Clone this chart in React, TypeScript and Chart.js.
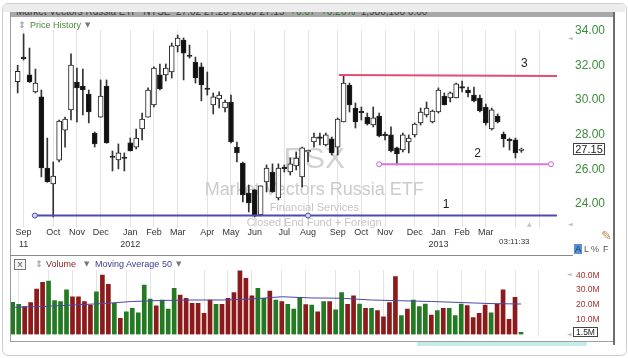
import React, { useEffect, useRef } from 'react';
import { Chart, registerables } from 'chart.js';

Chart.register(...registerables);

const FONT = '"Liberation Sans", Arial, sans-serif';
Chart.defaults.font.family = FONT;

// ---- weekly OHLC (RSX, Aug 2011 - Apr 2013) ----
const opens = [31.05,32.45,31.44,30.46,30.17,26.07,25.16,26.53,28.26,29.42,
 31.03,30.80,30.34,28.09,29.01,30.80,26.74,26.54,26.68,27.52,
 27.28,28.32,29.01,29.71,31.44,31.44,31.61,33.11,33.45,32.56,
 32.18,31.90,30.66,29.71,30.05,29.53,29.88,27.28,26.36,24.63,
 24.81,23.37,25.27,25.84,24.35,26.10,25.84,26.19,25.56,27.00,
 27.57,27.83,27.40,27.75,27.28,28.73,30.86,29.53,29.33,29.01,
 28.55,29.07,28.00,27.98,27.23,27.11,27.57,27.98,28.67,29.13,
 28.73,29.30,30.22,30.11,30.11,30.75,30.57,30.28,30.11,29.59,
 28.32,29.07,28.03,27.72,27.69,27.08];
const highs = [32.00,33.80,32.99,31.78,30.57,27.80,26.42,28.84,29.01,32.65,
 31.84,31.78,30.57,28.15,31.15,31.15,27.05,27.46,26.94,27.80,
 28.32,29.24,30.69,31.90,32.07,32.07,33.28,33.74,33.57,33.16,
 32.47,32.13,31.61,30.40,30.46,29.99,30.28,27.57,26.42,25.09,
 24.85,25.04,26.25,26.31,26.31,26.25,26.65,27.00,27.28,27.11,
 28.09,28.09,28.09,27.86,28.96,31.44,30.97,29.82,29.59,29.24,
 29.59,29.24,28.15,28.44,27.28,28.09,27.98,28.67,29.53,29.88,
 29.42,30.69,30.40,30.46,30.97,31.09,30.74,30.74,30.28,29.76,
 29.53,29.19,28.15,27.80,27.80,27.22];
const lows = [30.40,32.30,31.00,30.40,25.56,25.25,23.25,26.42,27.28,28.84,
 28.73,29.13,28.67,27.28,29.00,27.50,25.90,26.02,25.90,27.05,
 27.17,27.69,29.00,29.59,30.57,31.09,31.26,32.76,31.15,32.41,
 30.97,29.94,30.28,29.19,29.53,29.30,27.52,26.42,24.11,23.54,
 23.25,23.31,24.69,24.67,24.23,25.84,25.67,25.96,24.98,26.42,
 27.28,27.40,27.34,26.82,26.82,28.73,29.30,28.38,28.84,28.55,
 28.44,27.86,27.69,27.00,26.25,27.00,26.94,27.86,28.55,29.01,
 28.67,29.24,29.71,29.88,30.11,30.46,30.17,29.88,29.30,28.55,
 28.26,28.67,27.28,27.11,26.65,26.98];
const closes = [31.65,32.38,31.03,30.97,26.07,25.27,25.61,28.78,28.90,32.01,
 30.69,30.57,29.30,27.46,30.22,27.52,26.68,26.94,26.62,27.05,
 27.80,28.90,30.57,31.84,30.63,31.84,33.11,33.57,32.70,32.50,
 31.26,30.86,30.60,30.17,30.28,29.88,27.57,26.94,24.52,24.06,
 23.30,25.04,26.07,24.69,26.07,26.04,26.31,26.65,27.23,27.06,
 27.86,27.78,27.98,26.94,28.90,30.97,29.71,28.73,29.27,28.61,
 28.96,27.92,27.94,27.05,26.88,27.98,27.80,28.61,29.30,29.53,
 29.36,30.57,29.71,30.40,30.92,30.68,30.40,29.94,29.36,28.67,
 29.42,28.73,27.75,27.64,26.94,27.15];

// ---- weekly volume (millions) and up/down colouring ----
const volumes = [21.8,20.4,18.8,21.5,30.7,35.3,36.1,22.9,22.2,30.1,
 25.5,25.5,22.2,19.9,28.9,40.2,33.9,21.1,10.9,15.4,
 17.7,14.7,33.4,24.0,19.3,23.3,17.2,31.2,26.7,24.5,
 21.1,21.1,14.3,23.3,20.4,20.4,24.5,28.3,43.1,38.0,
 26.2,31.2,24.5,29.4,23.3,22.2,20.4,17.2,25.1,20.3,
 19.9,15.4,22.2,22.2,16.6,28.3,20.4,26.2,20.6,17.7,
 17.7,16.1,12.0,21.5,39.1,12.7,17.2,23.3,18.8,20.6,
 13.2,16.1,17.7,17.7,12.7,20.6,19.5,11.4,14.3,19.9,
 14.7,20.6,30.1,10.3,25.1,1.5];
const volumeDir = ['g','g','r','r','r','r','g','g','g','g',
 'r','r','r','r','g','r','r','g','r','g',
 'g','g','g','g','r','g','g','g','r','r',
 'r','r','r','r','g','r','r','r','r','r',
 'r','g','g','r','g','r','g','g','g','r',
 'g','r','g','r','g','g','r','r','g','r',
 'g','r','r','r','r','g','r','g','g','g',
 'r','g','r','g','g','g','r','r','r','r',
 'g','r','r','r','r','g'];

// 50-period moving average of volume (read at every 5th week)
const maIdx = [0,5,10,15,20,25,30,35,40,45,50,55,60,65,70,75,80,85];
const maValues = [18.4,18.9,19.9,20.9,22.3,23.0,23.3,23.3,24.0,25.5,24.7,24.5,23.3,22.8,22.3,21.6,20.9,20.6];

// ---- axis ticks ----
const monthTickIdx = [1,6,10,14,19,23,27,32,36,40,45,49,54,58,62,67,71,75,79,84,88];
const monthTickLabels: (string | string[])[] = [['Sep','11'],'Oct','Nov','Dec',['Jan','2012'],'Feb','Mar','Apr','May','Jun','Jul','Aug','Sep','Oct','Nov','Dec',['Jan','2013'],'Feb','Mar','',''];
const priceTicks = [24,26,28,30,32,34];
const volumeTicks = [10,20,30,40];

// ---- drawn trend lines ----
const line1X = [2.9, 49, 91];
const line1Y = [23.33, 23.33, 23.33];
const line2X = [61, 90];
const line2Y = [26.29, 26.29];
const line3X = [54.2, 91];
const line3Y = [31.44, 31.38];
const levelLabels = ['1','2','3'];
const levelLabelX = [72.3, 77.6, 85.5];
const levelLabelY = [23.94, 26.88, 32.07];

const lastPrice = 27.15;
const lastVolume = 1.5;

const X_MIN = -0.45;
const X_MAX = 91.52;
const Y_MIN = 22.67;
const Y_MAX = 34.03;
const V_MAX = 43.58;

const watermarkX = 50.05;

const priceOverlay = {
  id: 'priceOverlay',
  beforeDatasetsDraw(chart: any) {
    const { ctx, scales } = chart;
    const x = scales.x, y = scales.y;
    const cx = x.getPixelForValue(watermarkX);
    ctx.save();
    ctx.textAlign = 'center';
    ctx.fillStyle = '#d2d2d2';
    ctx.textBaseline = 'alphabetic';
    ctx.font = `30px ${FONT}`;
    ctx.fillText('RSX', cx, y.getPixelForValue(26.07));
    ctx.textBaseline = 'middle';
    ctx.fillStyle = '#cbcbcb';
    ctx.font = `18px ${FONT}`;
    ctx.fillText('Market Vectors Russia ETF', cx, y.getPixelForValue(24.81));
    ctx.fillStyle = '#c6c6c6';
    ctx.font = `11px ${FONT}`;
    ctx.fillText('Financial Services', cx, y.getPixelForValue(23.77));
    ctx.fillText('Closed End Fund + Foreign', cx, y.getPixelForValue(22.9));
    ctx.restore();
  },
  afterDatasetsDraw(chart: any) {
    const { ctx, scales } = chart;
    const x = scales.x, y = scales.y;
    ctx.save();
    ctx.fillStyle = '#222';
    ctx.font = `12px ${FONT}`;
    ctx.textAlign = 'center';
    ctx.textBaseline = 'middle';
    levelLabels.forEach((t, i) => {
      ctx.fillText(t, x.getPixelForValue(levelLabelX[i]), y.getPixelForValue(levelLabelY[i]));
    });
    // last price box
    const py = Math.round(y.getPixelForValue(lastPrice));
    const bx = chart.chartArea.right + 13.5;
    ctx.fillStyle = '#fff';
    ctx.fillRect(bx, py - 5.5, 31, 11);
    ctx.strokeStyle = '#444';
    ctx.lineWidth = 1;
    ctx.strokeRect(bx, py - 5.5, 31, 11);
    ctx.fillStyle = '#222';
    ctx.font = `11px ${FONT}`;
    ctx.fillText(lastPrice.toFixed(2), bx + 15.5, py + 0.5);
    ctx.restore();
  },
};

const volumeOverlay = {
  id: 'volumeOverlay',
  afterDatasetsDraw(chart: any) {
    const { ctx, scales } = chart;
    const y = scales.y;
    const py = Math.round(y.getPixelForValue(lastVolume));
    const bx = chart.chartArea.right + 13.5;
    ctx.save();
    ctx.fillStyle = '#fff';
    ctx.fillRect(bx, py - 4.5, 24, 9);
    ctx.strokeStyle = '#444';
    ctx.lineWidth = 1;
    ctx.strokeRect(bx, py - 4.5, 24, 9);
    ctx.fillStyle = '#222';
    ctx.font = `8.5px ${FONT}`;
    ctx.textAlign = 'center';
    ctx.textBaseline = 'middle';
    ctx.fillText(lastVolume.toFixed(1) + 'M', bx + 12, py + 0.5);
    ctx.restore();
  },
};

function T(props: { x: number; y: number; size: number; color: string; children: any; family?: string; weight?: string }) {
  const { x, y, size, color, children, family, weight } = props;
  return (
    <span
      style={{
        position: 'absolute',
        left: x,
        top: y - size * 0.6,
        fontSize: size,
        lineHeight: `${size * 1.2}px`,
        color,
        fontFamily: family || FONT,
        fontWeight: (weight as any) || 'normal',
        whiteSpace: 'nowrap',
      }}
    >
      {children}
    </span>
  );
}

function Box(props: { x: number; y: number; w: number; h: number; bg: string; style?: any }) {
  return (
    <div
      style={{
        position: 'absolute',
        left: props.x,
        top: props.y,
        width: props.w,
        height: props.h,
        background: props.bg,
        ...(props.style || {}),
      }}
    />
  );
}

export default function App() {
  const priceRef = useRef<HTMLCanvasElement | null>(null);
  const volRef = useRef<HTMLCanvasElement | null>(null);

  useEffect(() => {
    if (!priceRef.current || !volRef.current) return;
    const idx = opens.map((_, i) => i);
    const bodyColors = idx.map((i) => (closes[i] >= opens[i] ? '#ffffff' : '#111111'));

    const xCommon = {
      type: 'linear' as const,
      min: X_MIN,
      max: X_MAX,
      offset: false,
      afterBuildTicks: (s: any) => {
        s.ticks = monthTickIdx.map((v) => ({ value: v }));
      },
      grid: { color: '#e3e3e3', lineWidth: 1, drawTicks: false, offset: false },
      border: { display: false },
    };

    const price = new Chart(priceRef.current, {
      type: 'bar',
      data: {
        datasets: [
          {
            type: 'line',
            label: 'Line 1',
            data: line1X.map((x, i) => ({ x, y: line1Y[i] })),
            borderColor: '#4b4bb3',
            borderWidth: 2,
            pointRadius: [2.5, 2.5, 0],
            pointBackgroundColor: '#d6d6f2',
            pointBorderColor: '#4b4bb3',
            pointBorderWidth: 1,
            order: 0,
          } as any,
          {
            type: 'line',
            label: 'Line 2',
            data: line2X.map((x, i) => ({ x, y: line2Y[i] })),
            borderColor: '#e070e0',
            borderWidth: 2,
            pointRadius: 2.5,
            pointBackgroundColor: '#ffffff',
            pointBorderColor: '#d060d0',
            pointBorderWidth: 1,
            order: 0,
          } as any,
          {
            type: 'line',
            label: 'Line 3',
            data: line3X.map((x, i) => ({ x, y: line3Y[i] })),
            borderColor: '#e04e72',
            borderWidth: 2,
            pointRadius: 0,
            order: 0,
          } as any,
          {
            label: 'Body',
            data: idx.map((i) => ({ x: i, y: [opens[i], closes[i]] })),
            backgroundColor: bodyColors,
            borderColor: '#222',
            borderWidth: 1,
            borderSkipped: false,
            barThickness: 5,
            grouped: false,
            minBarLength: 1.5,
            order: 1,
          } as any,
          {
            label: 'Wick',
            data: idx.map((i) => ({ x: i, y: [lows[i], highs[i]] })),
            backgroundColor: '#333',
            barThickness: 1,
            grouped: false,
            order: 2,
          } as any,
        ],
      },
      options: {
        responsive: false,
        animation: false,
        events: [],
        layout: { padding: { top: 10, left: 0, right: 0, bottom: 0 } },
        plugins: { legend: { display: false }, tooltip: { enabled: false } },
        scales: {
          x: {
            ...xCommon,
            afterFit: (s: any) => {
              s.height = 25;
            },
            ticks: {
              autoSkip: false,
              maxRotation: 0,
              minRotation: 0,
              padding: 0,
              color: '#333',
              font: { size: 9, lineHeight: 1.3 },
              callback: (v: any) => {
                const k = monthTickIdx.indexOf(Number(v));
                return k >= 0 ? monthTickLabels[k] : '';
              },
            },
          } as any,
          y: {
            type: 'linear',
            position: 'right',
            min: Y_MIN,
            max: Y_MAX,
            afterBuildTicks: (s: any) => {
              s.ticks = priceTicks.map((v) => ({ value: v }));
            },
            afterFit: (s: any) => {
              s.width = 55;
            },
            grid: { display: true, drawOnChartArea: false, drawTicks: true, tickLength: 14, tickColor: 'rgba(0,0,0,0)' },
            border: { display: false },
            ticks: {
              padding: 1,
              color: '#3c8c3c',
              font: { size: 12 },
              callback: (v: any) => Number(v).toFixed(2),
            },
          } as any,
        },
      },
      plugins: [priceOverlay],
    });

    const vol = new Chart(volRef.current, {
      type: 'bar',
      data: {
        datasets: [
          {
            type: 'line',
            label: 'Moving Average 50',
            data: maIdx.map((x, i) => ({ x, y: maValues[i] })),
            borderColor: '#4848a8',
            borderWidth: 1,
            pointRadius: 0,
            tension: 0,
            order: 0,
          } as any,
          {
            label: 'Volume',
            data: idx.map((i) => ({ x: i, y: volumes[i] })),
            backgroundColor: idx.map((i) => (volumeDir[i] === 'g' ? '#237a23' : '#8c1a1a')),
            barThickness: 4,
            grouped: false,
            order: 1,
          } as any,
        ],
      },
      options: {
        responsive: false,
        animation: false,
        events: [],
        layout: { padding: { top: 8, left: 0, right: 0, bottom: 7.5 } },
        plugins: { legend: { display: false }, tooltip: { enabled: false } },
        scales: {
          x: {
            ...xCommon,
            afterFit: (s: any) => {
              s.height = 0;
            },
            ticks: { display: false },
          } as any,
          y: {
            type: 'linear',
            position: 'right',
            min: 0,
            max: V_MAX,
            afterBuildTicks: (s: any) => {
              s.ticks = volumeTicks.map((v) => ({ value: v }));
            },
            afterFit: (s: any) => {
              s.width = 55;
            },
            grid: { display: true, drawOnChartArea: false, drawTicks: true, tickLength: 15, tickColor: 'rgba(0,0,0,0)' },
            border: { display: false },
            ticks: {
              padding: 1,
              color: '#a83030',
              font: { size: 8.5 },
              callback: (v: any) => Number(v).toFixed(1) + 'M',
            },
          } as any,
        },
      },
      plugins: [volumeOverlay],
    });

    return () => {
      price.destroy();
      vol.destroy();
    };
  }, []);

  return (
    <div
      style={{
        position: 'fixed',
        left: 0,
        top: 0,
        width: 628,
        height: 358,
        background: '#ffffff',
        overflow: 'hidden',
        fontFamily: FONT,
      }}
    >
      {/* outer frame */}
      <Box x={2} y={3} w={623} h={351} bg="#ffffff" style={{ border: '1px solid #cdcdcd', borderRadius: 6 }} />
      <Box x={3} y={4} w={622} h={8} bg="#ececec" style={{ borderRadius: '5px 5px 0 0' }} />

      {/* header bar with quote text (clipped) */}
      <div
        style={{
          position: 'absolute',
          left: 11,
          top: 12,
          width: 603,
          height: 5,
          background: '#a8a8a8',
          overflow: 'hidden',
        }}
      >
        <span
          style={{
            position: 'absolute',
            left: 5,
            top: -6,
            fontSize: 10,
            lineHeight: '12px',
            whiteSpace: 'nowrap',
            color: '#3a3a3a',
            fontFamily: FONT,
          }}
        >
          Market Vectors Russia ETF&nbsp;&nbsp;NYSE&nbsp;&nbsp;27.02 27.20 26.89 27.15&nbsp;&nbsp;
          <span style={{ color: '#2e6e2e' }}>+0.07&nbsp;&nbsp;+0.26%</span>&nbsp;&nbsp;1,980,100 0:00
        </span>
      </div>

      {/* canvases */}
      <canvas
        ref={priceRef}
        width={605}
        height={232}
        style={{ position: 'absolute', left: 10, top: 20, width: 605, height: 232 }}
      />
      <canvas
        ref={volRef}
        width={605}
        height={80}
        style={{ position: 'absolute', left: 10, top: 262, width: 605, height: 80 }}
      />

      {/* panel borders */}
      <Box x={10} y={12} w={1} h={330} bg="#9a9a9a" />
      <Box x={613} y={12} w={2} h={333} bg="#6e6e6e" />
      <Box x={10} y={255} w={563} h={1} bg="#8a8a8a" />
      <Box x={10} y={341} w={603} h={1} bg="#a0a0a0" />
      <Box x={417} y={342} w={170} h={4} bg="#c6ebeb" />

      {/* price panel header */}
      <T x={18} y={25} size={9} color="#8a8a8a" family='"DejaVu Sans", sans-serif'>⇕</T>
      <T x={30} y={25} size={9} color="#4a8a3a">Price History</T>
      <T x={85} y={25} size={7} color="#777" family='"DejaVu Sans", sans-serif'>▼</T>

      {/* small UI glyphs */}
      <T x={568} y={38} size={6} color="#bdbdbd" family='"DejaVu Sans", sans-serif'>◄</T>
      <T x={568} y={224} size={6} color="#bdbdbd" family='"DejaVu Sans", sans-serif'>◄</T>
      <T x={527} y={224} size={6} color="#c4c4c4" family='"DejaVu Sans", sans-serif'>▲</T>
      <T x={567} y={274} size={6} color="#bdbdbd" family='"DejaVu Sans", sans-serif'>◄</T>
      <T x={567} y={334} size={6} color="#bdbdbd" family='"DejaVu Sans", sans-serif'>◄</T>

      {/* time stamp and view switches */}
      <T x={499} y={242} size={8} color="#333">03:11:33</T>
      <T x={601} y={236} size={13} color="#c48a4a" family='"DejaVu Sans", sans-serif'>✎</T>
      <Box x={574} y={244} w={8} h={10} bg="#5b8fd0" />
      <T x={575} y={249} size={9} color="#15305a">A</T>
      <T x={584} y={249} size={9} color="#555">L</T>
      <T x={591} y={249} size={9} color="#555">%</T>
      <T x={603} y={249} size={9} color="#555">F</T>

      {/* volume panel header */}
      <div
        style={{
          position: 'absolute',
          left: 14,
          top: 259,
          width: 10,
          height: 9,
          border: '1px solid #777',
          background: '#f6f6f6',
          fontSize: 8,
          lineHeight: '9px',
          textAlign: 'center',
          color: '#333',
          fontFamily: FONT,
        }}
      >
        X
      </div>
      <T x={35} y={264} size={9} color="#8a8a8a" family='"DejaVu Sans", sans-serif'>⇕</T>
      <T x={46} y={264} size={9} color="#8b2323">Volume</T>
      <T x={84} y={264} size={7} color="#777" family='"DejaVu Sans", sans-serif'>▼</T>
      <T x={95} y={264} size={9} color="#3b3b8f">Moving Average 50</T>
      <T x={176} y={264} size={7} color="#777" family='"DejaVu Sans", sans-serif'>▼</T>
    </div>
  );
}
